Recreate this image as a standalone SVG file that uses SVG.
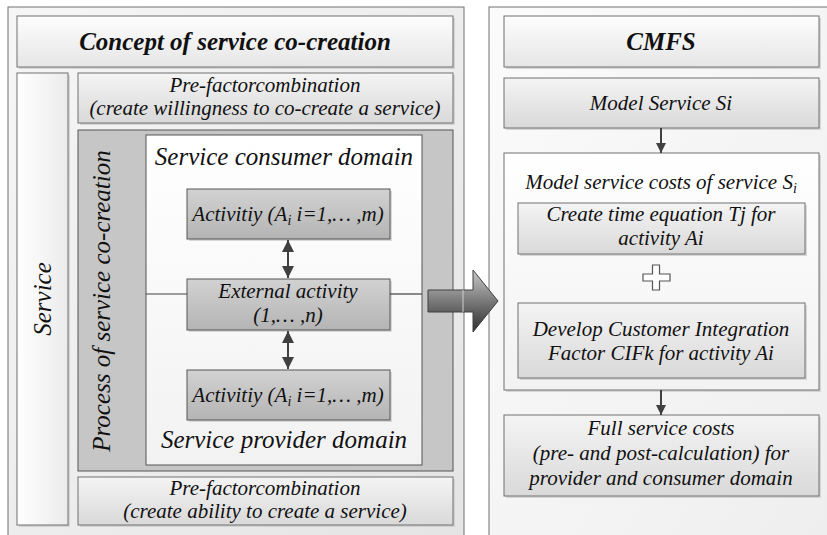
<svg xmlns="http://www.w3.org/2000/svg" width="827" height="535" viewBox="0 0 827 535" font-family="'Liberation Serif', 'DejaVu Serif', serif">
<defs>
<linearGradient id="gPanel" x1="0" y1="0" x2="1" y2="1"><stop offset="0" stop-color="#f6f6f6"/><stop offset="1" stop-color="#e4e4e4"/></linearGradient>
<linearGradient id="gPanelR" x1="0" y1="0" x2="1" y2="1"><stop offset="0" stop-color="#fbfbfb"/><stop offset="1" stop-color="#eeeeee"/></linearGradient>
<linearGradient id="gTitle" x1="0" y1="0" x2="0" y2="1"><stop offset="0" stop-color="#fdfdfd"/><stop offset="1" stop-color="#e6e6e6"/></linearGradient>
<linearGradient id="gLight" x1="0" y1="0" x2="0" y2="1"><stop offset="0" stop-color="#f4f4f4"/><stop offset="1" stop-color="#d9d9d9"/></linearGradient>
<linearGradient id="gAct" x1="0" y1="0" x2="0" y2="1"><stop offset="0" stop-color="#d2d2d2"/><stop offset="1" stop-color="#b4b4b4"/></linearGradient>
<linearGradient id="gSvc" x1="0" y1="0" x2="1" y2="0"><stop offset="0" stop-color="#ffffff"/><stop offset="1" stop-color="#ebebeb"/></linearGradient>
<linearGradient id="gWhite" x1="0" y1="0" x2="0" y2="1"><stop offset="0" stop-color="#ffffff"/><stop offset="1" stop-color="#f2f2f2"/></linearGradient>
<linearGradient id="gBig" x1="0" y1="0" x2="0" y2="1"><stop offset="0" stop-color="#c8c8c8"/><stop offset="0.5" stop-color="#7a7a7a"/><stop offset="1" stop-color="#2e2e2e"/></linearGradient>
<marker id="ah" viewBox="0 0 10 10" refX="10" refY="5" markerWidth="10" markerHeight="10" markerUnits="userSpaceOnUse" orient="auto-start-reverse"><path d="M0,0 L10,5 L0,10 Z" fill="#404040"/></marker>
<marker id="ah2" viewBox="0 0 12 12" refX="12" refY="6" markerWidth="12" markerHeight="12" markerUnits="userSpaceOnUse" orient="auto-start-reverse"><path d="M0,0 L12,6 L0,12 Z" fill="#404040"/></marker>
</defs>
<style>
text{font-family:'Liberation Serif','DejaVu Serif',serif;font-style:italic;fill:#111;}
.t{font-size:21px;text-anchor:middle;}
.big{font-size:25px;text-anchor:middle;}
.ttl{font-size:25px;font-weight:bold;text-anchor:middle;}
.bx{stroke:#707070;stroke-width:1;}
.dk{stroke:#555555;stroke-width:1;}
.sh{fill:#c9c9c9;opacity:0.7;}
.con{stroke:#404040;stroke-width:2;fill:none;}
</style>
<rect width="827" height="535" fill="#ffffff"/>

<g id="panel-left">
<rect x="8" y="7" width="456" height="540" fill="url(#gPanel)" class="bx"/>
</g>
<g id="panel-right">
<rect x="489" y="7" width="350" height="540" fill="url(#gPanelR)" class="bx"/>
</g>

<g id="title-left">
<rect x="19" y="18" width="436" height="51" class="sh"/>
<rect x="17" y="16" width="436" height="51" fill="url(#gTitle)" class="bx"/>
<text class="ttl" x="235" y="50">Concept of service co-creation</text>
</g>

<g id="service">
<rect x="19" y="75" width="51" height="452" class="sh"/>
<rect x="17" y="73" width="51" height="452" fill="url(#gSvc)" class="bx"/>
<text class="big" transform="translate(51,299) rotate(-90)">Service</text>
</g>

<g id="prefactor-top">
<rect x="80" y="75" width="375" height="50" class="sh"/>
<rect x="78" y="73" width="375" height="50" fill="url(#gLight)" class="bx"/>
<text class="t" x="265" y="92">Pre-factorcombination</text>
<text class="t" x="265" y="115">(create willingness to co-create a service)</text>
</g>

<g id="process">
<rect x="78" y="130" width="375" height="341" fill="#c6c6c6" class="dk"/>
<text class="big" transform="translate(110,301) rotate(-90)">Process of service co-creation</text>
</g>

<g id="domains">
<rect x="146" y="135" width="276" height="330" fill="url(#gWhite)" class="dk"/>
<text class="big" x="284" y="165">Service consumer domain</text>
<text class="big" x="284" y="448">Service provider domain</text>
</g>

<g id="activity-consumer">
<rect x="189" y="191" width="203" height="50" class="sh"/>
<rect x="187" y="189" width="203" height="50" fill="url(#gAct)" class="dk"/>
<text class="t" x="288" y="221">Activitiy (A<tspan font-size="14" dy="4">i</tspan><tspan dy="-4"> i=1,… ,m)</tspan></text>
</g>

<g id="external-activity">
<rect x="189" y="281" width="203" height="51" class="sh"/>
<rect x="187" y="279" width="203" height="51" fill="url(#gAct)" class="dk"/>
<text class="t" x="288" y="298">External activity</text>
<text class="t" x="288" y="322">(1,… ,n)</text>
</g>

<g id="activity-provider">
<rect x="189" y="372" width="203" height="50" class="sh"/>
<rect x="187" y="370" width="203" height="50" fill="url(#gAct)" class="dk"/>
<text class="t" x="288" y="402">Activitiy (A<tspan font-size="14" dy="4">i</tspan><tspan dy="-4"> i=1,… ,m)</tspan></text>
</g>

<g id="prefactor-bottom">
<rect x="80" y="479" width="375" height="48" class="sh"/>
<rect x="78" y="477" width="375" height="48" fill="url(#gLight)" class="bx"/>
<text class="t" x="265" y="495">Pre-factorcombination</text>
<text class="t" x="265" y="518">(create ability to create a service)</text>
</g>

<g id="title-right">
<rect x="506" y="18" width="315" height="51" class="sh"/>
<rect x="504" y="16" width="315" height="51" fill="url(#gTitle)" class="bx"/>
<text class="ttl" x="661" y="50">CMFS</text>
</g>

<g id="model-service">
<rect x="506" y="80" width="315" height="50" class="sh"/>
<rect x="504" y="78" width="315" height="50" fill="url(#gLight)" class="bx"/>
<text class="t" x="661" y="110">Model Service Si</text>
</g>

<g id="model-costs">
<rect x="506" y="155" width="315" height="237" class="sh"/>
<rect x="504" y="153" width="315" height="237" fill="url(#gWhite)" class="bx"/>
<text class="t" x="661" y="189">Model service costs of service S<tspan font-size="14" dy="4">i</tspan></text>
</g>

<g id="time-equation">
<rect x="520" y="205" width="287" height="51" class="sh"/>
<rect x="518" y="203" width="287" height="51" fill="url(#gLight)" class="bx"/>
<text class="t" x="661" y="221">Create time equation Tj for</text>
<text class="t" x="661" y="245">activity Ai</text>
</g>

<g id="plus">
<path d="M652.5,265 H659.5 V274 H670 V281 H659.5 V290 H652.5 V281 H643 V274 H652.5 Z" fill="#ffffff" stroke="#555555" stroke-width="1.2"/>
</g>

<g id="cif">
<rect x="520" y="305" width="287" height="75" class="sh"/>
<rect x="518" y="303" width="287" height="75" fill="url(#gLight)" class="bx"/>
<text class="t" x="661" y="336">Develop Customer Integration</text>
<text class="t" x="661" y="360">Factor CIFk for activity Ai</text>
</g>

<g id="full-costs">
<rect x="506" y="417" width="315" height="81" class="sh"/>
<rect x="504" y="415" width="315" height="81" fill="url(#gLight)" class="bx"/>
<text class="t" x="661" y="435">Full service costs</text>
<text class="t" x="661" y="460">(pre- and post-calculation) for</text>
<text class="t" x="661" y="485">provider and consumer domain</text>
</g>

<g id="connectors">
<line x1="146" y1="294" x2="187" y2="294" stroke="#404040" stroke-width="1.2"/>
<line x1="390" y1="294" x2="422" y2="294" stroke="#404040" stroke-width="1.2"/>
<line x1="288" y1="240" x2="288" y2="278" class="con" marker-start="url(#ah2)" marker-end="url(#ah2)"/>
<line x1="288" y1="331" x2="288" y2="369" class="con" marker-start="url(#ah2)" marker-end="url(#ah2)"/>
<line x1="661" y1="128" x2="661" y2="153" class="con" marker-end="url(#ah)"/>
<line x1="661" y1="390" x2="661" y2="415" class="con" marker-end="url(#ah)"/>
<path d="M428,290 H473 V270 L498,301 L473,332 V312 H428 Z" fill="url(#gBig)" stroke="#404040" stroke-width="1"/>
<line x1="463" y1="290" x2="463" y2="312" stroke="#d0d0d0" stroke-width="1"/>
</g>
</svg>
